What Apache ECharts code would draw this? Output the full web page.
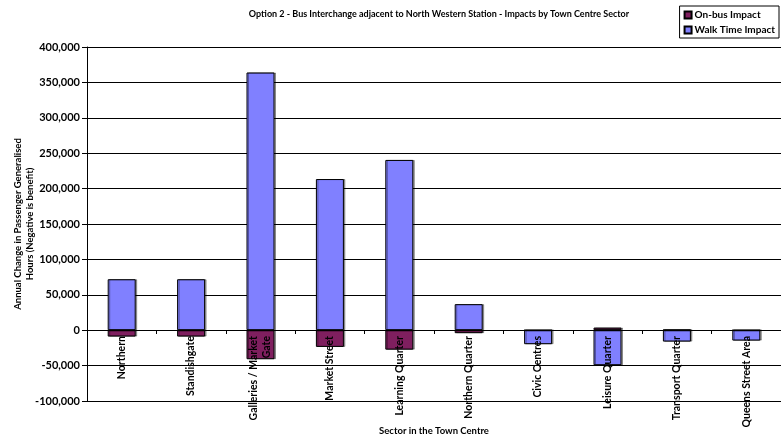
<!DOCTYPE html>
<html><head><meta charset="utf-8">
<script src="https://cdn.jsdelivr.net/npm/echarts@6/dist/echarts.min.js"></script>
<style>html,body{margin:0;padding:0;background:#fff}#c{width:781px;height:438px}</style>
</head><body><div id="c"></div>
<script>
const categories = ["Northern","Standishgate","Galleries / Market\nGate","Market Street","Learning Quarter","Northern Quarter","Civic Centres","Leisure Quarter","Transport Quarter","Queens Street Area"];
const onBusImpact = [-9000,-9000,-41000,-23600,-27500,-4200,0,3700,700,0];
const walkTimeImpact = [72000,72000,364000,213500,240500,36800,-19800,-49500,-16100,-14700];
const yTicks = {min:-100000,max:400000,interval:50000};

const FONT = 'Lato, "Open Sans", sans-serif';
const chart = echarts.init(document.getElementById('c'), null, {renderer:'canvas'});
const barStyle = (color) => ({color: color, borderColor:'#000', borderWidth:1,
  shadowColor:'rgba(0,0,0,0.35)', shadowOffsetX:1.5, shadowOffsetY:0, shadowBlur:0});
chart.setOption({
  animation:false,
  backgroundColor:'#fff',
  title:{text:'Option 2 - Bus Interchange adjacent to North Western Station - Impacts by Town Centre Sector',
    left:434, textAlign:'center', top:5,
    textStyle:{fontFamily:FONT,fontWeight:'bold',fontSize:9,color:'#000'}},
  legend:{orient:'vertical', right:2, top:6, borderColor:'#000', borderWidth:1, padding:[4,4,3,4],
    itemWidth:7, itemHeight:7, itemGap:5, icon:'rect',
    textStyle:{fontFamily:FONT,fontWeight:'bold',fontSize:10,color:'#000',padding:[0,0,0,-2]},
    data:['On-bus Impact','Walk Time Impact']},
  grid:{left:87, right:0, top:47, bottom:37, containLabel:false, outerBoundsMode:'none'},
  xAxis:{type:'category', data:categories, z:10, position:'bottom', offset:-71,
    axisLine:{onZero:false, lineStyle:{color:'#000',width:1}},
    axisTick:{show:true, alignWithLabel:false, length:4, inside:false, lineStyle:{color:'#000'}},
    axisLabel:{rotate:90, margin:6, interval:0, fontFamily:FONT, fontWeight:'bold', fontSize:10.5, color:'#000', lineHeight:13},
    name:'Sector in the Town Centre', nameLocation:'middle', nameGap:96, nameMoveOverlap:false,
    nameTextStyle:{fontFamily:FONT,fontWeight:'bold',fontSize:9.5,color:'#000'}},
  yAxis:{type:'value', min:yTicks.min, max:yTicks.max, interval:yTicks.interval,
    axisLine:{show:true, lineStyle:{color:'#000'}},
    axisTick:{show:true, length:5, lineStyle:{color:'#000'}},
    splitLine:{show:true, lineStyle:{color:'#000', width:1}},
    axisLabel:{margin:7, fontFamily:FONT, fontWeight:'bold', fontSize:11, color:'#000',
      formatter:(v)=>v.toLocaleString('en-US')},
    name:'Annual Change in Passenger Generalised\nHours (Negative is benefit)', nameLocation:'middle', nameGap:51, nameMoveOverlap:false,
    nameTextStyle:{fontFamily:FONT,fontWeight:'bold',fontSize:9.5,color:'#000',lineHeight:12}},
  series:[
    {name:'On-bus Impact', type:'bar', stack:'s', data:onBusImpact, barWidth:28, itemStyle:barStyle('#7F1F5F')},
    {name:'Walk Time Impact', type:'bar', stack:'s', data:walkTimeImpact, barWidth:28, itemStyle:barStyle('#8080FF')}
  ]
});
</script></body></html>
